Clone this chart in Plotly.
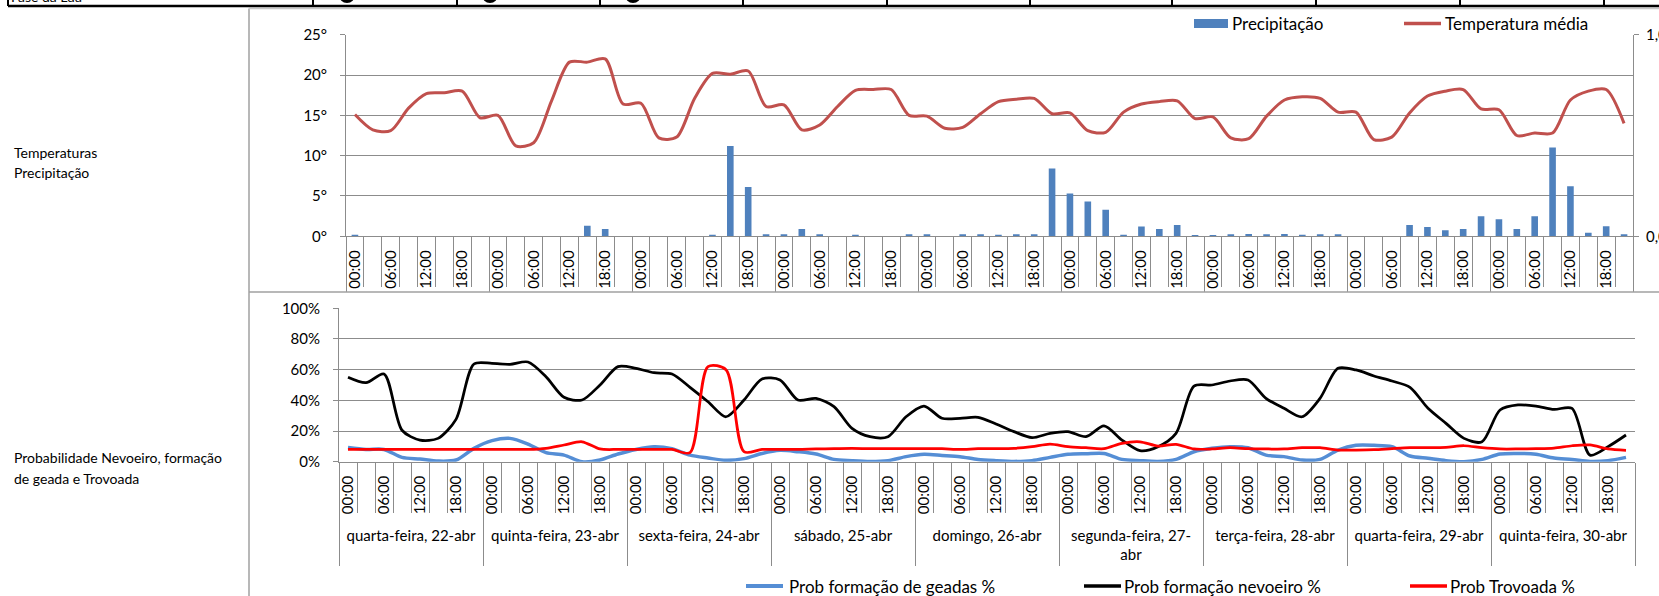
import plotly.graph_objects as go

W, H = 1659, 596

# ---------------- data ----------------
dias = ["quarta-feira, 22-abr", "quinta-feira, 23-abr", "sexta-feira, 24-abr",
        "sábado, 25-abr", "domingo, 26-abr", "segunda-feira, 27-<br>abr",
        "terça-feira, 28-abr", "quarta-feira, 29-abr", "quinta-feira, 30-abr"]
horas = ["00:00", "03:00", "06:00", "09:00", "12:00", "15:00", "18:00", "21:00"]
horas_rotulo = ["00:00", "06:00", "12:00", "18:00"]

temperatura = [15.1, 13.2, 13.1, 15.9, 17.7, 17.8, 18.0, 14.7,
               15.0, 11.2, 11.6, 16.8, 21.6, 21.6, 22.0, 16.4,
               16.5, 12.2, 12.3, 17.1, 20.2, 20.1, 20.5, 16.1,
               16.3, 13.2, 13.8, 16.1, 18.1, 18.2, 18.2, 15.0,
               14.9, 13.4, 13.5, 15.2, 16.7, 17.0, 17.1, 15.2,
               15.3, 13.1, 12.9, 15.4, 16.4, 16.7, 16.8, 14.6,
               14.8, 12.2, 12.1, 14.9, 16.9, 17.3, 17.1, 15.4,
               15.4, 12.0, 12.3, 15.3, 17.4, 18.0, 18.2, 15.8,
               15.7, 12.5, 12.8, 12.8, 16.9, 18.0, 18.2, 14.0]

precipitacao = [0.2, 0, 0, 0, 0, 0, 0, 0,
                0, 0, 0, 0, 0, 1.3, 0.9, 0,
                0, 0, 0, 0, 0.2, 11.2, 6.1, 0.25,
                0.25, 0.9, 0.25, 0, 0.2, 0, 0, 0.25,
                0.25, 0, 0.25, 0.25, 0.2, 0.25, 0.25, 8.4,
                5.3, 4.3, 3.3, 0.2, 1.2, 0.9, 1.4, 0.15,
                0.15, 0.25, 0.3, 0.25, 0.3, 0.2, 0.25, 0.25,
                0, 0, 0, 1.4, 1.15, 0.75, 0.9, 2.5,
                2.1, 0.9, 2.5, 11.0, 6.2, 0.45, 1.25, 0.25]

prob_geadas = [9.3, 8.0, 8.0, 2.8, 1.7, 0.4, 1.1, 8.7,
               13.7, 15.2, 11.5, 5.9, 4.3, 0.0, 1.1, 5.0,
               8.0, 9.8, 8.5, 4.3, 2.4, 0.9, 2.0, 5.4,
               7.4, 6.5, 5.0, 1.5, 0.7, 0.2, 0.7, 3.3,
               4.8, 4.1, 3.3, 1.5, 0.7, 0.2, 0.7, 2.8,
               4.8, 5.2, 5.4, 1.5, 0.7, 0.2, 1.5, 6.5,
               8.7, 9.8, 9.1, 4.3, 3.3, 1.1, 1.5, 7.6,
               10.7, 10.7, 9.8, 3.7, 2.2, 0.7, 0.0, 1.5,
               5.0, 5.4, 4.8, 2.4, 1.5, 0.2, 0.7, 2.8]

prob_nevoeiro = [55.0, 51.5, 57.2, 20.5, 14.1, 15.2, 27.6, 63.7,
                 64.1, 63.5, 65.0, 55.4, 42.0, 40.2, 50.0, 62.0,
                 60.9, 58.0, 57.2, 48.5, 39.1, 29.3, 40.2, 53.9,
                 53.3, 40.2, 41.3, 35.9, 21.7, 16.3, 16.3, 29.3,
                 36.3, 28.3, 28.3, 28.9, 24.6, 19.6, 15.7, 18.5,
                 19.6, 16.3, 23.3, 14.1, 7.2, 9.8, 18.5, 49.3,
                 50.0, 52.6, 53.3, 41.3, 34.8, 29.3, 41.3, 60.9,
                 59.8, 55.9, 52.6, 48.5, 34.8, 25.0, 15.2, 13.0,
                 33.7, 37.0, 36.3, 34.1, 34.8, 4.3, 9.8, 17.4]

prob_trovoada = [8.0, 8.0, 8.0, 8.0, 8.0, 8.0, 8.0, 8.0,
                 8.0, 8.0, 8.0, 8.7, 10.9, 13.0, 8.3, 8.0,
                 8.0, 8.0, 8.0, 5.9, 62.0, 60.0, 6.5, 8.0,
                 8.0, 8.0, 8.3, 8.5, 8.7, 8.5, 8.5, 8.5,
                 8.5, 8.5, 8.0, 8.5, 8.5, 8.7, 9.8, 11.5,
                 9.8, 9.1, 8.5, 12.0, 13.0, 10.2, 11.3, 8.3,
                 8.3, 9.1, 8.5, 8.3, 8.3, 9.1, 9.1, 7.6,
                 7.6, 7.8, 8.5, 9.1, 9.1, 9.3, 10.4, 9.1,
                 8.3, 8.3, 8.5, 8.9, 10.4, 10.9, 8.3, 7.4]

# ---------------- derived category positions ----------------
n_h = len(horas)
n_cat = len(dias) * n_h
pos = list(range(n_cat))
tick_pos = [d * n_h + horas.index(h) for d in range(len(dias)) for h in horas_rotulo]
tick_txt = [h for d in range(len(dias)) for h in horas_rotulo]
dia_pos = [d * n_h + (n_h - 1) / 2 for d in range(len(dias))]
xr = [-0.5, n_cat - 0.5]

# ---------------- style ----------------
FONT = "Lato"
GRID = "#8C8C8C"
C_PREC = "#4F81BD"
C_TEMP = "#C0504D"
C_GEADA = "#558ED5"
C_NEV = "#000000"
C_TROV = "#FF0000"


def px(v):
    return v / W


def py(v):
    return 1 - v / H


tfont = dict(family=FONT, size=15, color="black")

fig = go.Figure()

# top chart
fig.add_trace(go.Bar(x=pos, y=precipitacao, name="Precipitação", marker_color=C_PREC,
                     width=0.37, xaxis="x", yaxis="y", showlegend=False))
fig.add_trace(go.Scatter(x=pos, y=temperatura, name="Temperatura média", mode="lines",
                         line=dict(color=C_TEMP, width=3, shape="spline", smoothing=0.8),
                         xaxis="x", yaxis="y", showlegend=False))
# helper (invisible) traces so overlay axes are drawn
fig.add_trace(go.Scatter(x=[pos[0]], y=[0], mode="markers", marker=dict(opacity=0),
                         xaxis="x", yaxis="y2", showlegend=False, hoverinfo="skip"))
fig.add_trace(go.Scatter(x=[pos[0]], y=[0], mode="markers", marker=dict(opacity=0),
                         xaxis="x3", yaxis="y", showlegend=False, hoverinfo="skip"))

# bottom chart
fig.add_trace(go.Scatter(x=pos, y=prob_geadas, name="Prob formação de geadas %", mode="lines",
                         line=dict(color=C_GEADA, width=3.5, shape="spline", smoothing=0.8),
                         xaxis="x2", yaxis="y3", showlegend=False))
fig.add_trace(go.Scatter(x=pos, y=prob_nevoeiro, name="Prob formação nevoeiro %", mode="lines",
                         line=dict(color=C_NEV, width=2.75, shape="spline", smoothing=0.8),
                         xaxis="x2", yaxis="y3", showlegend=False))
fig.add_trace(go.Scatter(x=pos, y=prob_trovoada, name="Prob Trovoada %", mode="lines",
                         line=dict(color=C_TROV, width=2.75, shape="spline", smoothing=0.8),
                         xaxis="x2", yaxis="y3", showlegend=False))
fig.add_trace(go.Scatter(x=[pos[0]], y=[0], mode="markers", marker=dict(opacity=0),
                         xaxis="x4", yaxis="y3", showlegend=False, hoverinfo="skip"))
fig.add_trace(go.Scatter(x=[pos[0]], y=[0], mode="markers", marker=dict(opacity=0),
                         xaxis="x5", yaxis="y3", showlegend=False, hoverinfo="skip"))

sep_axis = dict(range=xr, showline=True, linecolor=GRID, linewidth=1, showgrid=False,
                zeroline=False, showticklabels=False, tickmode="linear", tick0=-0.5,
                dtick=n_h, ticks="outside", tickcolor=GRID, tickwidth=1, automargin=False,
                minor=dict(tickmode="linear", tick0=-0.5, dtick=1, ticks="outside",
                           tickcolor=GRID, tickwidth=1, showgrid=False))
lab_axis = dict(range=xr, showline=False, showgrid=False, zeroline=False, automargin=False,
                tickmode="array", ticks="outside", tickcolor="rgba(0,0,0,0)", tickfont=tfont)

fig.update_layout(
    template="none",
    width=W, height=H, margin=dict(l=0, r=0, t=0, b=0, pad=0, autoexpand=False),
    paper_bgcolor="white", plot_bgcolor="white",
    font=dict(family=FONT, color="black"),
    showlegend=False,
    xaxis=dict(sep_axis, domain=[px(346), px(1633)], anchor="y", ticklen=55,
               minor=dict(sep_axis["minor"], ticklen=50)),
    xaxis3=dict(lab_axis, overlaying="x", anchor="y", side="bottom", tickvals=tick_pos,
                ticktext=tick_txt, tickangle=-90, ticklen=7),
    yaxis=dict(domain=[py(236.3), py(34.7)], anchor="x", range=[0, 25], tickmode="linear",
               tick0=0, dtick=5, ticksuffix="°", showgrid=True, gridcolor=GRID, gridwidth=1,
               showline=True, linecolor=GRID, ticks="outside", ticklen=5, tickcolor=GRID,
               zeroline=False, tickfont=tfont, ticklabelstandoff=10, automargin=False),
    yaxis2=dict(overlaying="y", side="right", anchor="x", range=[0, 1], tickmode="array",
                tickvals=[0, 1], ticktext=["0,0", "1,0"], showgrid=False, showline=True,
                linecolor=GRID, ticks="outside", ticklen=5, tickcolor=GRID, zeroline=False,
                tickfont=tfont, ticklabelstandoff=4, automargin=False),
    xaxis2=dict(sep_axis, domain=[px(339), px(1635)], anchor="y3", ticklen=103,
                minor=dict(sep_axis["minor"], ticklen=50)),
    xaxis4=dict(lab_axis, overlaying="x2", anchor="y3", side="bottom", tickvals=tick_pos,
                ticktext=tick_txt, tickangle=-90, ticklen=7),
    xaxis5=dict(lab_axis, overlaying="x2", anchor="y3", side="bottom", tickvals=dia_pos,
                ticktext=dias, tickangle=0, ticklen=60),
    yaxis3=dict(domain=[py(461.7), py(308.3)], anchor="x2", range=[0, 100], tickmode="linear",
                tick0=0, dtick=20, ticksuffix="%", showgrid=True, gridcolor=GRID, gridwidth=1,
                showline=True, linecolor=GRID, ticks="outside", ticklen=5, tickcolor=GRID,
                zeroline=False, tickfont=tfont, ticklabelstandoff=10, automargin=False),
)

shapes = []
# chart area borders
shapes.append(dict(type="line", xref="paper", yref="paper", x0=px(249), x1=px(249),
                   y0=py(8.5), y1=py(H), line=dict(color="#A0A0A0", width=1.5)))
shapes.append(dict(type="line", xref="paper", yref="paper", x0=px(249), x1=1,
                   y0=py(8.5), y1=py(8.5), line=dict(color="#C8C8C8", width=1.5)))
shapes.append(dict(type="line", xref="paper", yref="paper", x0=px(249), x1=1,
                   y0=py(292), y1=py(292), line=dict(color="#A0A0A0", width=1.5)))
# table row "Fase da Lua" (cut off at top)
shapes.append(dict(type="line", xref="paper", yref="paper", x0=px(8), x1=1,
                   y0=py(6), y1=py(6), line=dict(color="black", width=2.5)))
for cx in [8, 313, 457, 600, 743, 887, 1030, 1172, 1316, 1460, 1604]:
    shapes.append(dict(type="line", xref="paper", yref="paper", x0=px(cx), x1=px(cx),
                       y0=py(-2), y1=py(6), line=dict(color="black", width=2)))
for cx in [347, 490, 633]:
    shapes.append(dict(type="circle", xref="paper", yref="paper", x0=px(cx - 8), x1=px(cx + 8),
                       y0=py(3), y1=py(-13), fillcolor="black", line=dict(width=0)))

# legends (top)
shapes.append(dict(type="rect", xref="paper", yref="paper", x0=px(1194), x1=px(1228),
                   y0=py(28), y1=py(19), fillcolor=C_PREC, line=dict(width=0)))
shapes.append(dict(type="line", xref="paper", yref="paper", x0=px(1404), x1=px(1441),
                   y0=py(23.5), y1=py(23.5), line=dict(color=C_TEMP, width=3.5)))
# legends (bottom)
for x0, col, w in [(746, C_GEADA, 4), (1084, C_NEV, 3.5), (1410, C_TROV, 3.5)]:
    shapes.append(dict(type="line", xref="paper", yref="paper", x0=px(x0), x1=px(x0 + 37),
                       y0=py(586), y1=py(586), line=dict(color=col, width=w)))
fig.update_layout(shapes=shapes)

ann = []
def txt(t, x, y, size, xanchor="left", yanchor="middle"):
    ann.append(dict(text=t, x=px(x), y=py(y), xref="paper", yref="paper", showarrow=False,
                    xanchor=xanchor, yanchor=yanchor, font=dict(family=FONT, size=size, color="black")))

txt("Fase da Lua", 9, 7, 14, yanchor="bottom")
txt("Temperaturas", 12, 152, 14)
txt("Precipitação", 12, 172, 14)
txt("Probabilidade Nevoeiro, formação", 12, 458, 14)
txt("de geada e Trovoada", 12, 478, 14)
txt("Precipitação", 1230, 23.5, 17)
txt("Temperatura média", 1443, 23.5, 17)
txt("Prob formação de geadas %", 787, 586, 17)
txt("Prob formação nevoeiro %", 1122, 586, 17)
txt("Prob Trovoada %", 1448, 586, 17)
fig.update_layout(annotations=ann)

fig.write_html("out.html", config={"displayModeBar": False, "staticPlot": True},
               post_script="document.body.style.margin='0';document.body.style.overflow='hidden';")
